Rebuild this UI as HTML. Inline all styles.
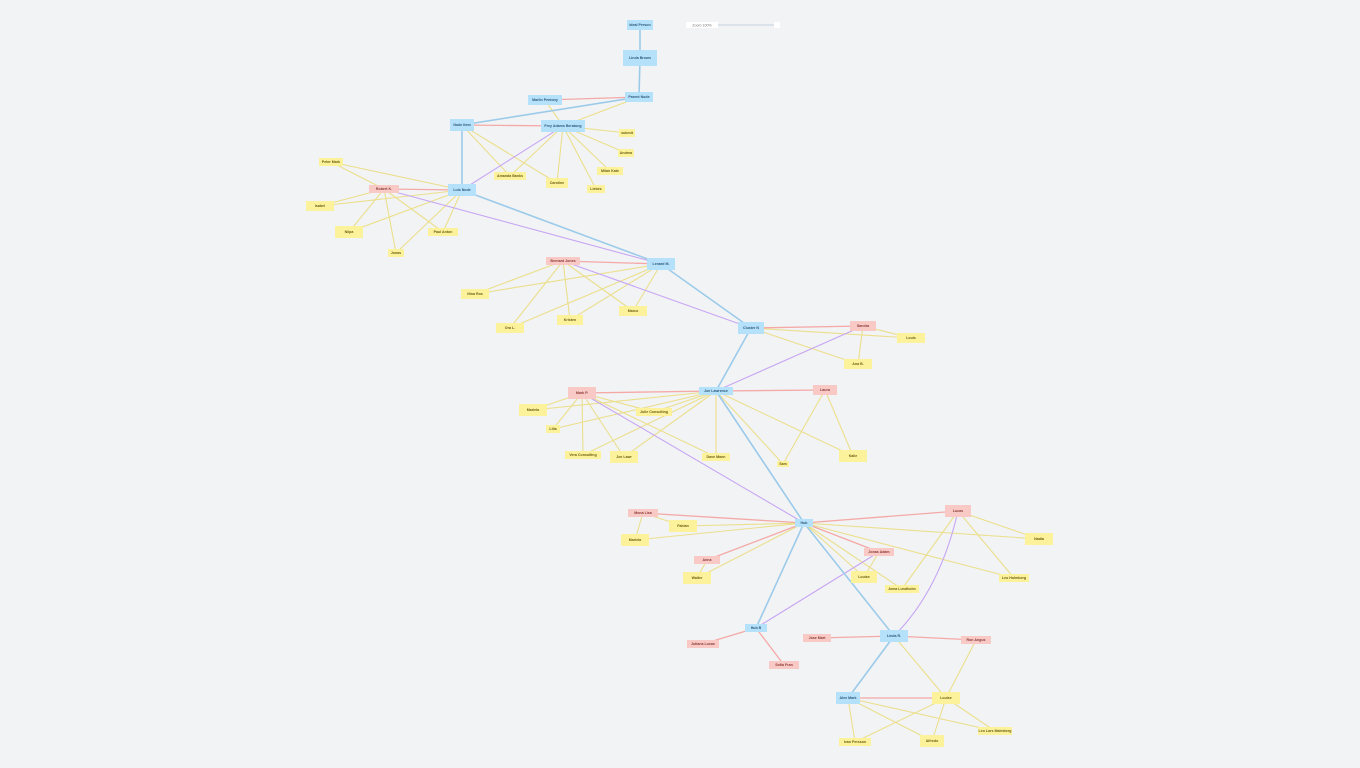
<!DOCTYPE html>
<html><head><meta charset="utf-8"><style>
html,body{margin:0;padding:0;background:#f2f3f5;width:1360px;height:768px;overflow:hidden}
svg{display:block}
text{font-family:"Liberation Sans",sans-serif;font-size:3.6px;text-anchor:middle;font-weight:bold}
.b{fill:#b5e1fb}.r{fill:#f9c9c6}.y{fill:#fdf29c}
.tb{fill:#2d5b7a}.tr{fill:#8a3b35}.ty{fill:#6e5f10}
</style></head><body>
<svg width="1360" height="768" viewBox="0 0 1360 768" xmlns="http://www.w3.org/2000/svg">
<g stroke="#ebdf8c" stroke-width="1.1" fill="none">
<path d="M639 97L563 126M545 100L563 126
M563 126L627 133M563 126L626 153M563 126L610 171M563 126L596 189M563 126L557 183M563 126L510 176
M462 125L557 183M462 125L510 176
M384 189L331 162M384 189L320 206M384 189L349 232M384 189L443 232M384 189L396 253
M462 190L331 162M462 190L320 206M462 190L349 232M462 190L443 232M462 190L396 253
M563 261L510 328M563 261L570 320M563 261L633 311
M661 264L475 294M661 264L510 328M661 264L570 320M661 264L633 311M563 261L475 294
M751 328L858 364M751 328L911 338M863 326L911 338M863 326L858 364
M582 393L533 410M582 393L553 429M582 393L583 455M582 393L624 457M582 393L654 412M582 393L716 457
M716 391L533 410M716 391L553 429M716 391L654 412M716 391L583 455M716 391L624 457M716 391L716 457M716 391L783 464M716 391L853 456
M825 390L783 464M825 390L853 456
M643 513L683 526M643 513L635 540
M804 523L683 526M804 523L635 540M804 523L697 578M804 523L864 577M804 523L902 589M804 523L1039 539M804 523L1014 578
M958 511L1039 539M958 511L1014 578M958 511L902 589
M707 560L697 578M879 552L864 577
M894 636L946 698M976 640L946 698
M848 698L855 742M848 698L932 741M848 698L995 731
M946 698L855 742M946 698L932 741M946 698L995 731"/>
</g>
<g stroke="#c7a6f3" stroke-width="1.1" fill="none">
<path d="M563 126L462 190M384 189L661 264M563 261L751 328M863 326L716 391M582 393L804 523M879 552L756 628M958 511Q940 590 894 636"/>
</g>
<g stroke="#f4a9a6" stroke-width="1.3" fill="none">
<path d="M639 97L545 100M462 125L563 126M462 190L384 189M661 264L563 261M751 328L863 326M716 391L582 393M716 391L825 390
M804 523L643 513M804 523L958 511M804 523L707 560M804 523L879 552M756 628L703 644M756 628L784 665M894 636L817 638M894 636L976 640M848 698L946 698"/>
</g>
<g stroke="#9ccbea" stroke-width="1.6" fill="none">
<path d="M640 25L640 58M640 58L639 97M639 97L462 125M462 125L462 190M462 190L661 264M661 264L751 328M751 328L716 391M716 391L804 523M804 523L756 628M804 523L894 636M894 636L848 698"/>
</g>
<!-- slider -->
<line x1="718" y1="25" x2="777" y2="25" stroke="#d3dce6" stroke-width="1.5"/>
<rect x="686" y="22" width="32" height="6" fill="#fff"/>
<text x="702" y="26.3" style="font-weight:normal;fill:#777">Zoom 100%</text>
<rect x="774" y="22" width="6" height="6" fill="#fff"/>
<!-- blue nodes -->
<g class="b">
<rect x="627" y="20" width="26" height="10"/><rect x="623" y="50" width="34" height="16"/>
<rect x="625" y="92" width="28" height="10"/><rect x="528" y="95" width="34" height="10"/>
<rect x="450" y="119" width="24" height="12"/><rect x="541" y="120" width="44" height="12"/>
<rect x="448" y="184" width="28" height="12"/><rect x="647" y="258" width="28" height="12"/>
<rect x="738" y="322" width="26" height="12"/><rect x="699" y="387" width="34" height="8"/>
<rect x="795" y="519" width="18" height="8"/><rect x="745" y="624" width="22" height="8"/>
<rect x="880" y="630" width="28" height="12"/><rect x="836" y="692" width="24" height="12"/>
</g>
<g class="r">
<rect x="369" y="185" width="30" height="8"/><rect x="546" y="257" width="34" height="8"/>
<rect x="850" y="321" width="26" height="10"/><rect x="568" y="387" width="28" height="12"/>
<rect x="813" y="385" width="24" height="10"/><rect x="628" y="509" width="30" height="8"/>
<rect x="945" y="505" width="26" height="12"/><rect x="694" y="556" width="26" height="8"/>
<rect x="864" y="548" width="30" height="8"/><rect x="687" y="640" width="32" height="8"/>
<rect x="769" y="661" width="30" height="8"/><rect x="803" y="634" width="28" height="8"/>
<rect x="961" y="636" width="30" height="8"/>
</g>
<g class="y">
<rect x="619" y="129" width="16" height="8"/><rect x="618" y="149" width="16" height="8"/>
<rect x="597" y="167" width="26" height="8"/><rect x="587" y="185" width="18" height="8"/>
<rect x="546" y="178" width="22" height="10"/><rect x="494" y="172" width="32" height="8"/>
<rect x="319" y="158" width="24" height="8"/><rect x="306" y="201" width="28" height="10"/>
<rect x="335" y="226" width="28" height="12"/><rect x="428" y="228" width="30" height="8"/>
<rect x="388" y="249" width="16" height="8"/><rect x="461" y="289" width="28" height="10"/>
<rect x="496" y="323" width="28" height="10"/><rect x="557" y="315" width="26" height="10"/>
<rect x="619" y="306" width="28" height="10"/><rect x="897" y="333" width="28" height="10"/>
<rect x="844" y="359" width="28" height="10"/><rect x="519" y="404" width="28" height="12"/>
<rect x="636" y="408" width="36" height="8"/><rect x="546" y="425" width="14" height="8"/>
<rect x="565" y="451" width="36" height="8"/><rect x="610" y="451" width="28" height="12"/>
<rect x="702" y="453" width="28" height="8"/><rect x="777" y="461" width="12" height="6"/>
<rect x="839" y="450" width="28" height="12"/><rect x="669" y="520" width="28" height="12"/>
<rect x="621" y="534" width="28" height="12"/><rect x="1025" y="533" width="28" height="12"/>
<rect x="999" y="574" width="30" height="8"/><rect x="851" y="571" width="26" height="12"/>
<rect x="885" y="585" width="34" height="8"/><rect x="683" y="572" width="28" height="12"/>
<rect x="932" y="692" width="28" height="12"/><rect x="839" y="738" width="32" height="8"/>
<rect x="920" y="735" width="24" height="12"/><rect x="978" y="727" width="34" height="8"/>
</g>
<g class="tb">
<text x="640" y="26">Ideal Person</text><text x="640" y="59">Linda Brown</text>
<text x="639" y="98">Parent Node</text><text x="545" y="101">Marlin Pentony</text>
<text x="462" y="126">Node Item</text><text x="563" y="127">Frey Adams Beratung</text>
<text x="462" y="191">Luis Node</text><text x="661" y="265">Lenard M.</text>
<text x="751" y="329">Cluster N</text><text x="716" y="392">Joe Lawrence</text>
<text x="804" y="524">Hub</text><text x="756" y="629">Hub B</text>
<text x="894" y="637">Linda R.</text><text x="848" y="699">Alex Mark</text>
</g>
<g class="tr">
<text x="384" y="190">Robert K.</text><text x="563" y="262">Bernard Jones</text>
<text x="863" y="327">Sandra</text><text x="582" y="394">Mark P.</text>
<text x="825" y="391">Laura</text><text x="643" y="514">Mona Lisa</text>
<text x="958" y="512">Lucas</text><text x="707" y="561">Anna</text>
<text x="879" y="553">Jonas Adam</text><text x="703" y="645">Juliana Lucas</text>
<text x="784" y="666">Sofia Fran</text><text x="817" y="639">Jose Mart</text>
<text x="976" y="641">Ron Angus</text>
</g>
<g class="ty">
<text x="627" y="134">submit</text><text x="626" y="154">Andrea</text>
<text x="610" y="172">Milan Kate</text><text x="596" y="190">Liebes</text>
<text x="557" y="184">Caroline</text><text x="510" y="177">Amanda Banks</text>
<text x="331" y="163">Peter Mark</text><text x="320" y="207">Isabel</text>
<text x="349" y="233">Nilpa</text><text x="443" y="233">Paul Anton</text>
<text x="396" y="254">Jonas</text><text x="475" y="295">Nina Ros</text>
<text x="510" y="329">Ora L.</text><text x="570" y="321">Kristen</text>
<text x="633" y="312">Marco</text><text x="911" y="339">Louis</text>
<text x="858" y="365">Ana B.</text><text x="533" y="411">Mariela</text>
<text x="654" y="413">Julie Consulting</text><text x="553" y="430">Lilia</text>
<text x="583" y="456">Vera Consulting</text><text x="624" y="458">Joe Lawr</text>
<text x="716" y="458">Dave Mann</text><text x="783" y="465">Sam</text>
<text x="853" y="457">Kalie</text><text x="683" y="527">Fabian</text>
<text x="635" y="541">Mariela</text><text x="1039" y="540">Nadia</text>
<text x="1014" y="579">Leo Holmberg</text><text x="864" y="578">Louise</text>
<text x="902" y="590">Anna Lundholm</text><text x="697" y="579">Walter</text>
<text x="946" y="699">Louise</text><text x="855" y="743">Ivan Persson</text>
<text x="932" y="742">Alfredo</text><text x="995" y="732">Leo Lars Malmberg</text>
</g>
</svg>
</body></html>
